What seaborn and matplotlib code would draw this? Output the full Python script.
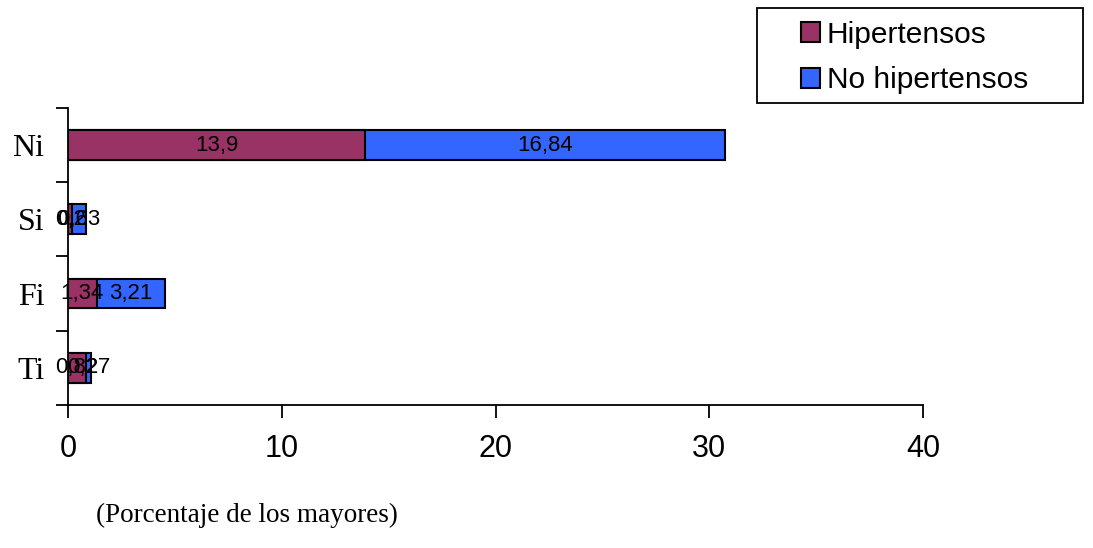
import matplotlib
matplotlib.use("Agg")
import matplotlib.pyplot as plt
import seaborn as sns
import pandas as pd
from matplotlib.patches import Patch, Rectangle

categories = ["Ni", "Si", "Fi", "Ti"]
hipertensos = [13.9, 0.2, 1.34, 0.82]
no_hipertensos = [16.84, 0.63, 3.21, 0.27]
x_ticks = [0, 10, 20, 30, 40]

pink = "#993366"
blue = "#3366FF"

sns.set_theme(style="white")
plt.rcParams["font.family"] = ["Liberation Sans", "DejaVu Sans"]
plt.rcParams["text.color"] = "black"
plt.rcParams["xtick.color"] = "black"
plt.rcParams["ytick.color"] = "black"

df = pd.DataFrame({"cat": categories, "hip": hipertensos, "no": no_hipertensos})
df["total"] = df["hip"] + df["no"]

fig = plt.figure(figsize=(10.93, 5.48), dpi=100)
ax = fig.add_axes([0.0622, 0.261, 0.7823, 0.542])

sns.barplot(data=df, y="cat", x="total", order=categories, color=blue,
            edgecolor="black", linewidth=1.5, width=0.4, ax=ax, saturation=1)
sns.barplot(data=df, y="cat", x="hip", order=categories, color=pink,
            edgecolor="black", linewidth=1.5, width=0.4, ax=ax, saturation=1)

def fmt(v):
    return ("%g" % v).replace(".", ",")

for i, (h, n) in enumerate(zip(hipertensos, no_hipertensos)):
    ax.text(h / 2, i, fmt(h), ha="center", va="center", fontsize=16, color="black")
    ax.text(h + n / 2, i, fmt(n), ha="center", va="center", fontsize=16, color="black")

ax.set_xlim(0, 40)
ax.set_ylim(3.5, -0.5)
ax.set_xticks(x_ticks)
ax.set_xticklabels([str(t) for t in x_ticks], fontsize=22)
ax.set_yticks(range(len(categories)))
ax.set_yticklabels(categories, fontsize=23, family=["Liberation Serif", "DejaVu Serif"])
ax.set_yticks([i - 0.5 for i in range(len(categories) + 1)], minor=True)
ax.tick_params(axis="y", which="major", length=0, pad=17)
ax.tick_params(axis="y", which="minor", length=9, width=1.3, color="black", direction="out", left=True)
ax.tick_params(axis="x", which="major", length=9, width=1.3, color="black", direction="out", bottom=True, pad=12)
ax.set_xlabel("")
ax.set_ylabel("")
for s in ["top", "right"]:
    ax.spines[s].set_visible(False)
for s in ["left", "bottom"]:
    ax.spines[s].set_color("black")
    ax.spines[s].set_linewidth(1.3)
ax.grid(False)

# legend frame
W, H = 1093.0, 548.0
fig.patches.append(Rectangle((757 / W, 1 - 103 / H), (1083 - 757) / W, (103 - 8) / H,
                             transform=fig.transFigure, fill=False, edgecolor="black",
                             linewidth=1.3))
handles = [Patch(facecolor=pink, edgecolor="black", linewidth=1.5, label="Hipertensos"),
           Patch(facecolor=blue, edgecolor="black", linewidth=1.5, label="No hipertensos")]
leg = fig.legend(handles=handles, loc="center left", bbox_to_anchor=(801 / W, 1 - 57.5 / H),
                 fontsize=21.5, frameon=False,
                 handlelength=0.62, handleheight=0.62, handletextpad=0.25,
                 borderpad=0, labelspacing=0.6, borderaxespad=0)

fig.text(96 / W, 1 - 515 / H, "(Porcentaje de los mayores)", fontsize=19.5,
         family=["Liberation Serif", "DejaVu Serif"], ha="left", va="center")

fig.savefig("out.png", dpi=100)
